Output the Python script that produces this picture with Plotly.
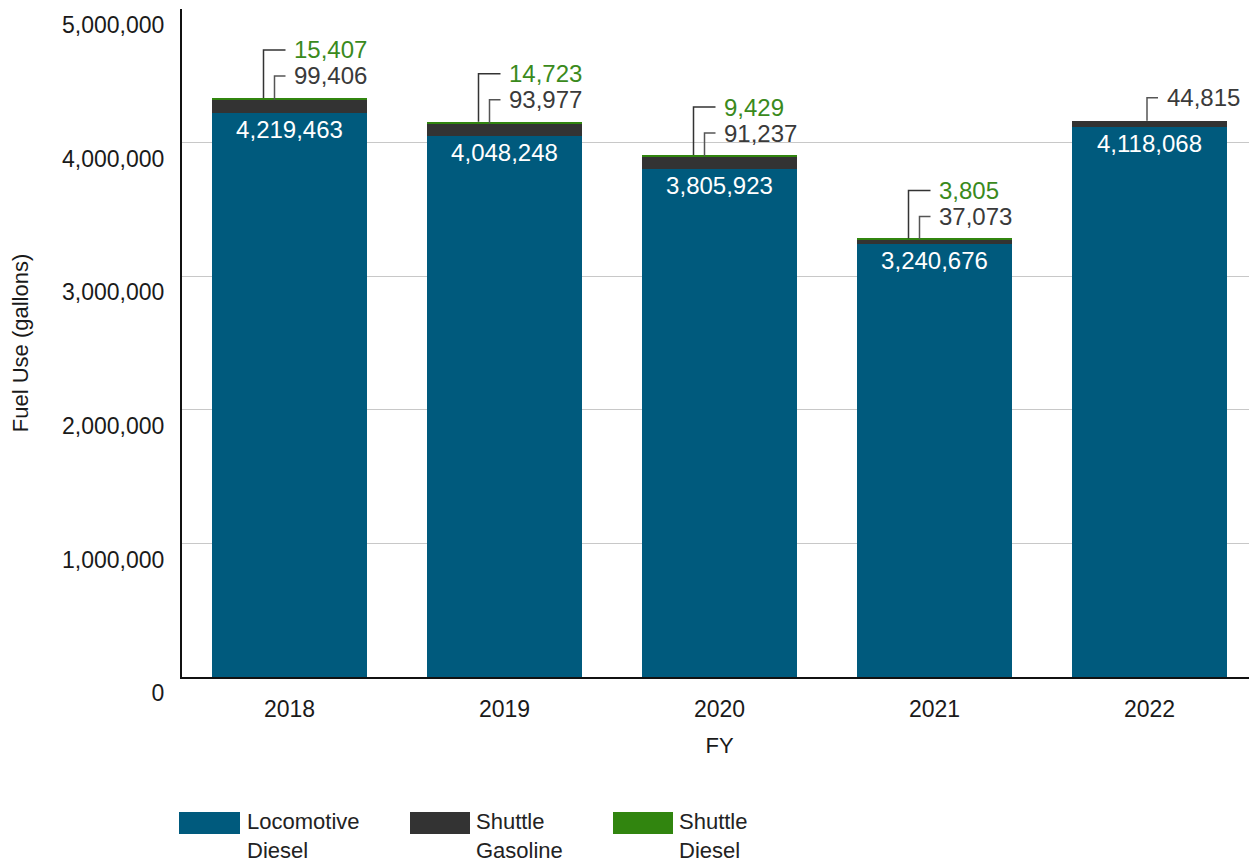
import plotly.graph_objects as go

years = [2018, 2019, 2020, 2021, 2022]
locomotive_diesel = [4219463, 4048248, 3805923, 3240676, 4118068]
shuttle_gasoline = [99406, 93977, 91237, 37073, 44815]
shuttle_diesel = [15407, 14723, 9429, 3805, None]

y_ticks = [0, 1000000, 2000000, 3000000, 4000000, 5000000]
y_tick_labels = ["0", "1,000,000", "2,000,000", "3,000,000", "4,000,000", "5,000,000"]

C_LOCO = "#005A7D"
C_GAS = "#333333"
C_DIESEL = "#31850F"
C_GREEN_TXT = "#3A8A1C"
C_GRAY_TXT = "#3A3A3A"
FONT = "Liberation Sans, Arial, sans-serif"
FSN = 24   # numbers
FST = 22   # words

# page geometry (pixels); the page body has an 8px margin
OFF = 8
PW, PH = 1257, 865
P_LEFT, P_TOP, P_BOTTOM, P_RIGHT = 182, 9, 677, 1257
W, H = PW - OFF, PH - OFF
L = P_LEFT - OFF
T = P_TOP - OFF
B = H - (P_BOTTOM - OFF)
R = W - (P_RIGHT - OFF)
plot_w = W - L - R
plot_h = H - T - B
YMAX = 5000000
px_x = 1.0 / (plot_w / 5)          # data units per px (x)
px_y = YMAX / plot_h               # data units per px (y)

fig = go.Figure()
fig.add_bar(x=years, y=locomotive_diesel, name="Locomotive Diesel",
            marker=dict(color=C_LOCO, line=dict(width=0)),
            text=[f"{v:,}" for v in locomotive_diesel], texttemplate="%{text}",
            textposition="inside", insidetextanchor="end", textangle=0,
            insidetextfont=dict(color="white", size=FSN, family=FONT),
            hoverinfo="skip", showlegend=False)
fig.add_bar(x=years, y=shuttle_gasoline, name="Shuttle Gasoline",
            marker=dict(color=C_GAS, line=dict(width=0)),
            hoverinfo="skip", showlegend=False)
fig.add_bar(x=years, y=shuttle_diesel, name="Shuttle Diesel",
            marker=dict(color=C_DIESEL, line=dict(width=0)),
            hoverinfo="skip", showlegend=False)

shapes = []
annotations = []
for i, yr in enumerate(years):
    loco = locomotive_diesel[i]
    gas = shuttle_gasoline[i]
    dsl = shuttle_diesel[i]
    total = loco + gas + (dsl or 0)
    if dsl is not None:
        xv = yr - 26 * px_x
        xe = yr - 4 * px_x
        yt = total + 48 * px_y
        shapes.append(dict(type="path", xref="x", yref="y",
                           path=f"M {xv} {total} L {xv} {yt} L {xe} {yt}",
                           line=dict(color="#333333", width=1.5)))
        annotations.append(dict(x=yr + 2 * px_x, y=yt, xref="x", yref="y",
                                text=f"{dsl:,}", showarrow=False, xanchor="left",
                                yanchor="middle",
                                font=dict(color=C_GREEN_TXT, size=FSN, family=FONT)))
        xv = yr - 15 * px_x
        yt = total + 22 * px_y
        shapes.append(dict(type="path", xref="x", yref="y",
                           path=f"M {xv} {loco + gas} L {xv} {yt} L {xe} {yt}",
                           line=dict(color="#555555", width=1.5)))
        annotations.append(dict(x=yr + 2 * px_x, y=yt, xref="x", yref="y",
                                text=f"{gas:,}", showarrow=False, xanchor="left",
                                yanchor="middle",
                                font=dict(color=C_GRAY_TXT, size=FSN, family=FONT)))
    else:
        xv = yr - 2.5 * px_x
        xe = yr + 8.5 * px_x
        yt = total + 23 * px_y
        shapes.append(dict(type="path", xref="x", yref="y",
                           path=f"M {xv} {total} L {xv} {yt} L {xe} {yt}",
                           line=dict(color="#555555", width=1.5)))
        annotations.append(dict(x=yr + 15 * px_x, y=yt, xref="x", yref="y",
                                text=f"{gas:,}", showarrow=False, xanchor="left",
                                yanchor="middle",
                                font=dict(color=C_GRAY_TXT, size=FSN, family=FONT)))

# manual legend (page pixel positions)
legend_items = [("Locomotive<br>Diesel", C_LOCO, 179, 240, 245),
                ("Shuttle<br>Gasoline", C_GAS, 410, 470, 474),
                ("Shuttle<br>Diesel", C_DIESEL, 613, 673, 677)]
def pxx(p):
    return (p - P_LEFT) / plot_w
def pxy(p):
    return (P_BOTTOM - p) / plot_h
for txt, col, x0, x1, xt in legend_items:
    shapes.append(dict(type="rect", xref="paper", yref="paper",
                       x0=pxx(x0), x1=pxx(x1), y0=pxy(834), y1=pxy(812),
                       fillcolor=col, line=dict(width=0)))
    annotations.append(dict(x=pxx(xt), y=pxy(807), xref="paper", yref="paper",
                            text=txt, showarrow=False, xanchor="left", yanchor="top",
                            align="left",
                            font=dict(color="#222222", size=FST, family=FONT)))

fig.update_layout(
    barmode="stack",
    bargap=0.28,
    width=W, height=H,
    margin=dict(l=L, r=R, t=T, b=B, pad=0),
    paper_bgcolor="white", plot_bgcolor="white",
    font=dict(family=FONT, size=FSN, color="#1A1A1A"),
    shapes=shapes,
    annotations=annotations,
    xaxis=dict(range=[2017.5, 2022.5], tickmode="array", tickvals=years,
               ticktext=[str(y) for y in years], showgrid=False,
               showline=True, linecolor="#111111", linewidth=2,
               ticks="", ticklabelstandoff=10,
               tickfont=dict(size=FST + 1),
               title=dict(text="FY", standoff=17, font=dict(size=FST)),
               fixedrange=True),
    yaxis=dict(range=[0, YMAX], tickmode="array", tickvals=y_ticks,
               ticktext=y_tick_labels, showgrid=True, gridcolor="#C8C8C8",
               gridwidth=1, zeroline=False,
               showline=True, linecolor="#111111", linewidth=2,
               ticks="", ticklabelstandoff=11, ticklabelposition="outside bottom",
               tickfont=dict(size=FSN - 1),
               title=dict(text="Fuel Use (gallons)", standoff=29, font=dict(size=FST)),
               fixedrange=True),
)

fig.write_html("out.html")
